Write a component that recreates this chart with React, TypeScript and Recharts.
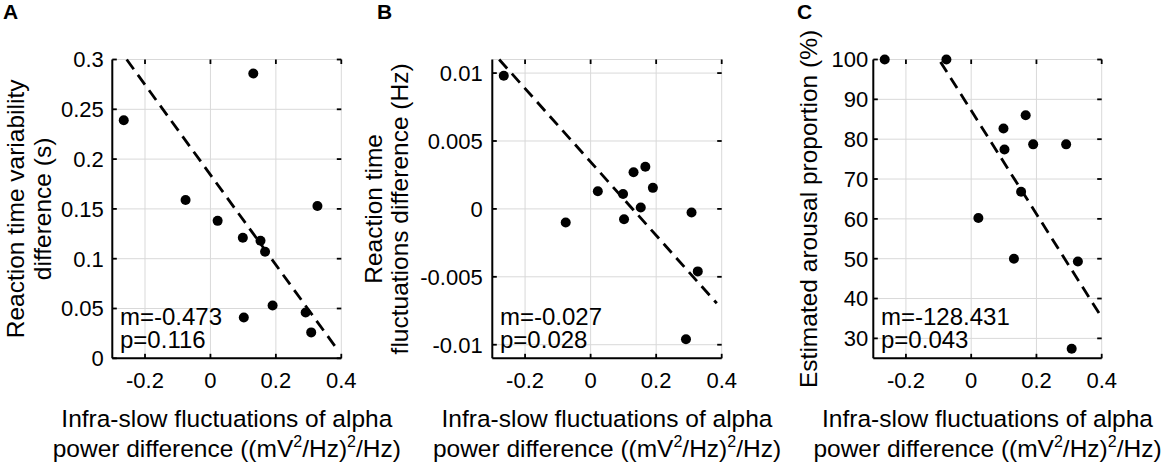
import React from 'react';
import { ScatterChart, Scatter, XAxis, YAxis, CartesianGrid } from 'recharts';

// per-subject infra-slow alpha fluctuation difference (x in every panel)
const alphaDiff = [-0.265, -0.076, 0.022, 0.099, 0.102, 0.131, 0.153, 0.167, 0.19, 0.291, 0.308, 0.327];

// y values, same subject order
const rtVariability = [0.239, 0.159, 0.138, 0.121, 0.041, 0.286, 0.118, 0.107, 0.053, 0.046, 0.026, 0.153];
const rtFluctuations = [0.0098, -0.001, 0.0013, 0.0011, -0.00076, 0.0027, 0.0001, 0.0031, 0.00155, -0.0096, -0.00027, -0.0046];
const arousal = [100, 100, 60.2, 82.7, 77.4, 50, 66.8, 86, 78.7, 78.7, 27.4, 49.3];

// fitted lines, endpoints as drawn
const fitXA = [-0.256, 0.381];
const fitYA = [0.3, 0.012];
const fitXB = [-0.279, 0.385];
const fitYB = [0.011, -0.00695];
const fitXC = [-0.094, 0.392];
const fitYC = [99.4, 36.3];

const xDomain: [number, number] = [-0.3, 0.4];
const xTicks = [-0.2, 0, 0.2, 0.4];
const rtVarTicks = [0, 0.05, 0.1, 0.15, 0.2, 0.25, 0.3];
const rtFluctTicks = [-0.01, -0.005, 0, 0.005, 0.01];
const arousalTicks = [30, 40, 50, 60, 70, 80, 90, 100];

const statsA = ['m=-0.473', 'p=0.116'];
const statsB = ['m=-0.027', 'p=0.028'];
const statsC = ['m=-128.431', 'p=0.043'];

const W = 1170;
const H = 462;
const PLOT_TOP = 59.5;
const PLOT_BOTTOM = 358.3;
const X_AXIS_H = 30;
const Y_AXIS_W = 60;
const TICK_LEN = 4.5;
const FONT = '"Liberation Sans", Arial, Helvetica, sans-serif';
const FRAME = { stroke: '#000', strokeWidth: 2 };

const toPoints = (xs: number[], ys: number[]) => xs.map((x, i) => ({ x, y: ys[i] }));

function XTick(props: any) {
  const { x, payload } = props;
  return (
    <text x={x} y={387.5} textAnchor="middle" fontSize={22} fontFamily={FONT} fill="#000">
      {payload.value}
    </text>
  );
}

function YTick(props: any) {
  const { y, payload, plotLeft, gap } = props;
  return (
    <text x={plotLeft - gap} y={y} dy="0.36em" textAnchor="end" fontSize={22} fontFamily={FONT} fill="#000">
      {payload.value}
    </text>
  );
}

// inward tick marks at the frame
const markShape = (dir: 'up' | 'down' | 'left' | 'right') => (s: any) => {
  const t = 1.8;
  if (dir === 'up') return <rect x={s.cx - t / 2} y={s.cy - TICK_LEN} width={t} height={TICK_LEN} fill="#000" />;
  if (dir === 'down') return <rect x={s.cx - t / 2} y={s.cy} width={t} height={TICK_LEN} fill="#000" />;
  if (dir === 'right') return <rect x={s.cx} y={s.cy - t / 2} width={TICK_LEN} height={t} fill="#000" />;
  return <rect x={s.cx - TICK_LEN} y={s.cy - t / 2} width={TICK_LEN} height={t} fill="#000" />;
};

type PanelProps = {
  letter: string;
  letterX: number;
  ys: number[];
  fitX: number[];
  fitY: number[];
  yDomain: [number, number];
  yTicks: number[];
  yLabel: string[];
  yLabelX: number[];
  stats: string[];
  plotLeft: number;
  plotRight: number;
  tickGap: number;
};

function Panel(p: PanelProps) {
  const points = toPoints(alphaDiff, p.ys);
  const fit = toPoints(p.fitX, p.fitY);
  const [x0, x1] = xDomain;
  const [y0, y1] = p.yDomain;
  const cx = (p.plotLeft + p.plotRight) / 2;
  const cy = (PLOT_TOP + PLOT_BOTTOM) / 2;

  return (
    <div style={{ position: 'absolute', left: 0, top: 0 }}>
      <ScatterChart
        width={W}
        height={H}
        margin={{
          top: PLOT_TOP,
          bottom: H - PLOT_BOTTOM - X_AXIS_H,
          left: p.plotLeft - Y_AXIS_W,
          right: W - p.plotRight,
        }}
      >
        <CartesianGrid stroke="#d9d9d9" strokeWidth={1} />
        <XAxis
          type="number"
          dataKey="x"
          domain={xDomain}
          ticks={xTicks}
          interval={0}
          height={X_AXIS_H}
          tickLine={false}
          axisLine={FRAME}
          tick={<XTick />}
        />
        <XAxis
          xAxisId="top"
          orientation="top"
          type="number"
          domain={xDomain}
          height={0}
          tick={false}
          tickLine={false}
          axisLine={FRAME}
        />
        <YAxis
          type="number"
          dataKey="y"
          domain={p.yDomain}
          ticks={p.yTicks}
          interval={0}
          width={Y_AXIS_W}
          tickLine={false}
          axisLine={FRAME}
          tick={<YTick plotLeft={p.plotLeft} gap={p.tickGap} />}
        />
        <YAxis
          yAxisId="right"
          orientation="right"
          type="number"
          domain={p.yDomain}
          width={0}
          tick={false}
          tickLine={false}
          axisLine={FRAME}
        />
        <Scatter data={p.yTicks.map((t) => ({ x: x0, y: t }))} shape={markShape('right')} isAnimationActive={false} />
        <Scatter data={p.yTicks.map((t) => ({ x: x1, y: t }))} shape={markShape('left')} isAnimationActive={false} />
        <Scatter data={xTicks.map((t) => ({ x: t, y: y0 }))} shape={markShape('up')} isAnimationActive={false} />
        <Scatter data={xTicks.map((t) => ({ x: t, y: y1 }))} shape={markShape('down')} isAnimationActive={false} />
        <Scatter
          data={fit}
          line={{ stroke: '#000', strokeWidth: 2.8, strokeDasharray: '12 7' }}
          shape={() => <g />}
          isAnimationActive={false}
        />
        <Scatter
          data={points}
          shape={(s: any) => <circle cx={s.cx} cy={s.cy} r={5} fill="#000" />}
          isAnimationActive={false}
        />
        <g fontFamily={FONT} fill="#000">
          <text x={p.letterX} y={19} fontSize={21} fontWeight="bold">
            {p.letter}
          </text>
          {p.yLabel.map((line, i) => (
            <text
              key={line}
              x={p.yLabelX[i]}
              y={cy}
              textAnchor="middle"
              fontSize={24.5}
              transform={`rotate(-90 ${p.yLabelX[i]} ${cy})`}
            >
              {line}
            </text>
          ))}
          <text x={cx} y={426.7} textAnchor="middle" fontSize={24.5}>
            Infra-slow fluctuations of alpha
          </text>
          <text x={cx} y={456.7} textAnchor="middle" fontSize={24.5}>
            power difference ((mV<tspan dy={-10} fontSize={16}>2</tspan>
            <tspan dy={10}>/Hz)</tspan>
            <tspan dy={-10} fontSize={16}>2</tspan>
            <tspan dy={10}>/Hz)</tspan>
          </text>
          {p.stats.map((s, i) => (
            <text key={s} x={p.plotLeft + 7.7} y={325 + i * 22.6} fontSize={24}>
              {s}
            </text>
          ))}
        </g>
      </ScatterChart>
    </div>
  );
}

export default function App() {
  return (
    <div style={{ position: 'fixed', left: 0, top: 0, width: W, height: H, background: '#fff' }}>
      <Panel
        letter="A"
        letterX={3}
        ys={rtVariability}
        fitX={fitXA}
        fitY={fitYA}
        yDomain={[0, 0.3]}
        yTicks={rtVarTicks}
        yLabel={['Reaction time variability', 'difference (s)']}
        yLabelX={[24.5, 51]}
        stats={statsA}
        plotLeft={112.3}
        plotRight={341.3}
        tickGap={8.5}
      />
      <Panel
        letter="B"
        letterX={377}
        ys={rtFluctuations}
        fitX={fitXB}
        fitY={fitYB}
        yDomain={[-0.011, 0.011]}
        yTicks={rtFluctTicks}
        yLabel={['Reaction time', 'fluctuations difference (Hz)']}
        yLabelX={[382.5, 408]}
        stats={statsB}
        plotLeft={492.3}
        plotRight={721.7}
        tickGap={9.6}
      />
      <Panel
        letter="C"
        letterX={797}
        ys={arousal}
        fitX={fitXC}
        fitY={fitYC}
        yDomain={[25, 100]}
        yTicks={arousalTicks}
        yLabel={['Estimated arousal proportion (%)']}
        yLabelX={[817]}
        stats={statsC}
        plotLeft={873.3}
        plotRight={1101.7}
        tickGap={5}
      />
    </div>
  );
}
